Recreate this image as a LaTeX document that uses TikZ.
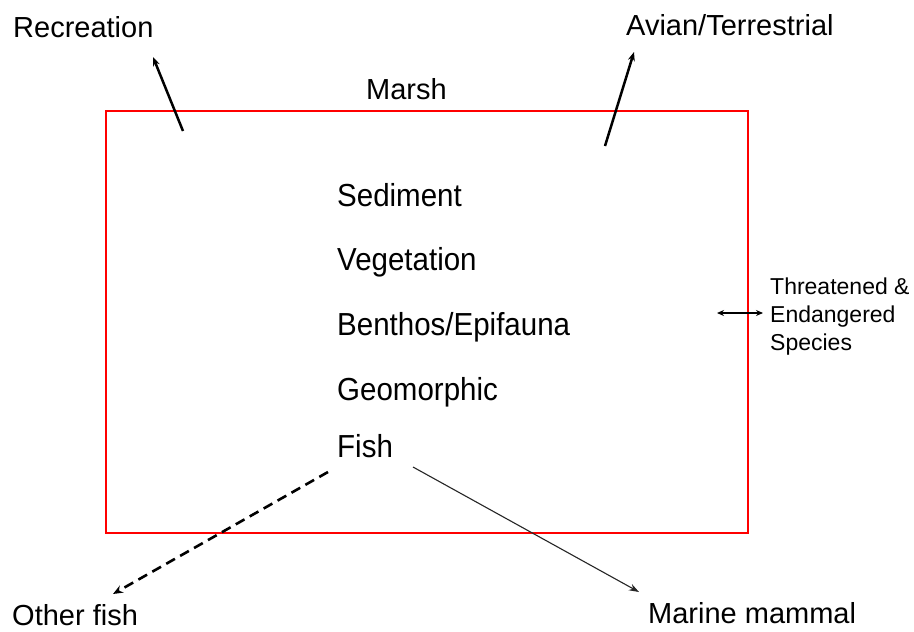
\documentclass[tikz,border=0pt]{standalone}
\usepackage{fontspec}
\setmainfont{Liberation Sans}
\usetikzlibrary{arrows.meta}
\begin{document}
\begin{tikzpicture}[x=1pt,y=-1pt,
  lbl/.style={anchor=base west,inner sep=0pt,font=\fontsize{29}{34}\selectfont},
  item/.style={anchor=base west,inner sep=0pt,yscale=1.08,font=\fontsize{29.5}{35}\selectfont},
  marsh/.style={draw=red,line width=2.4pt},
  arr/.style={line width=2.5pt,-{Stealth[length=9pt,width=7pt]}},
  dasharr/.style={line width=2.6pt,dash pattern=on 10pt off 6pt,-{Stealth[length=10pt,width=8pt]}},
  thinarr/.style={line width=1.1pt,draw=black!85,-{Stealth[length=10pt,width=7pt]}},
  dblarr/.style={line width=2pt,{Stealth[length=7pt,width=6pt]}-{Stealth[length=7pt,width=6pt]}}]
\useasboundingbox (0,0) rectangle (914,632);
\fill[white] (0,0) rectangle (914,632);
\node[inner sep=0pt,minimum width=642pt,minimum height=422pt,marsh] (box) at (427,322) {};
\node[lbl] (rec) at (13,37) {Recreation};
\node[lbl] (marshlbl) at (366,99) {Marsh};
\node[lbl] (avian) at (626,35) {Avian/Terrestrial};
\node[item] (sed) at (337,206) {Sediment};
\node[item] (veg) at (337,270) {Vegetation};
\node[item] (ben) at (337,335) {Benthos/Epifauna};
\node[item] (geo) at (337,400) {Geomorphic};
\node[item] (fish) at (337,457) {Fish};
\node[lbl] (other) at (12,625) {Other fish};
\node[lbl] (marine) at (648,623) {Marine mammal};
\node[anchor=north west,inner sep=0pt,align=left,font=\fontsize{23}{28}\selectfont] (tes) at (770,278) {Threatened \&\\Endangered\\Species};
\coordinate (recS) at (183,131);
\coordinate (recT) at (153,57);
\coordinate (avS) at (605,146);
\coordinate (avT) at (634,52);
\coordinate (teL) at (717,313);
\coordinate (teR) at (763,313);
\coordinate (ofS) at (328,472);
\coordinate (ofT) at (113,594);
\coordinate (mmS) at (413,467);
\coordinate (mmT) at (639,592);
\draw[arr] (recS) -- (recT);
\draw[arr] (avS) -- (avT);
\draw[dblarr] (teL) -- (teR);
\draw[dasharr] (ofS) -- (ofT);
\draw[thinarr] (mmS) -- (mmT);
\end{tikzpicture}
\end{document}
